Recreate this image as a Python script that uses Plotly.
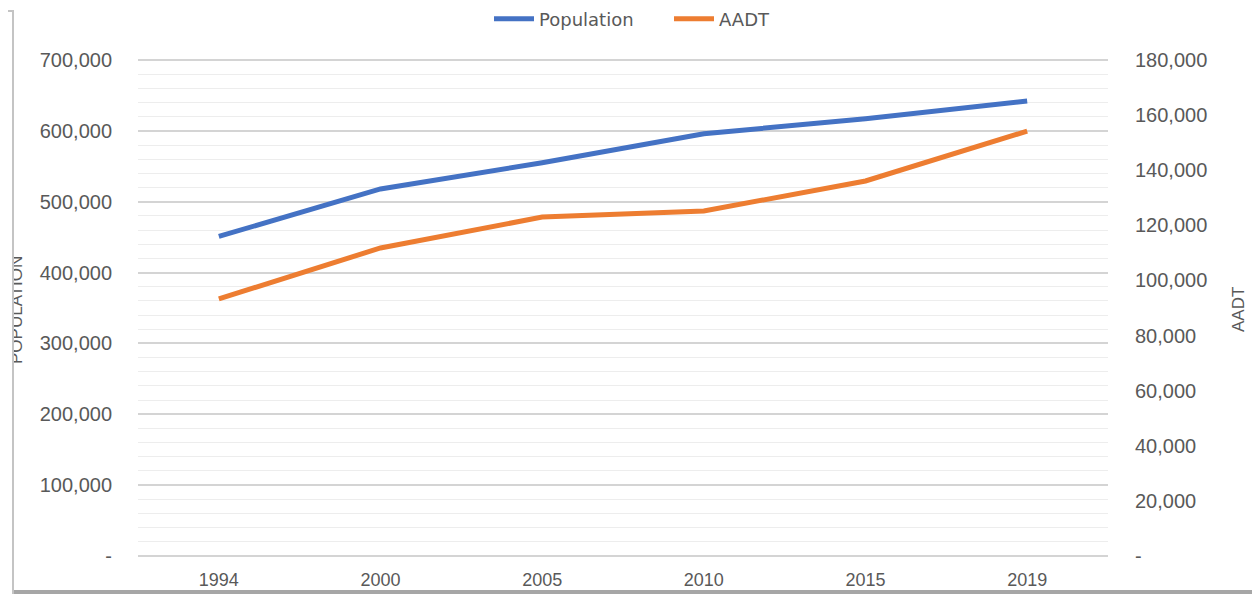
import plotly.graph_objects as go

years = ["1994", "2000", "2005", "2010", "2015", "2019"]
population = [451000, 518000, 555000, 596000, 617000, 642000]
aadt = [93300, 111800, 123000, 125200, 136100, 154200]

left_ticks = [0, 100000, 200000, 300000, 400000, 500000, 600000, 700000]
left_text = ["-", "100,000", "200,000", "300,000", "400,000", "500,000", "600,000", "700,000"]
right_ticks = [0, 20000, 40000, 60000, 80000, 100000, 120000, 140000, 160000, 180000]
right_text = ["-", "20,000", "40,000", "60,000", "80,000", "100,000", "120,000", "140,000", "160,000", "180,000"]

# page body has an 8px margin; work in screen coordinates and convert
OFF = 8
PADPX = 2  # extra px on each end so plotly keeps the end gridlines
W, H = 1260 - OFF, 594 - OFF
PL, PR = 138 - OFF, 1108 - OFF
PT, PB = 60 - PADPX - OFF, 556 + PADPX - OFF
ML, MR, MT, MB = PL, W - PR, PT, H - PB
PW = PR - PL
PH = PB - PT


def px(x):  # screen x -> paper
    return (x - OFF - PL) / PW


def py(y):  # screen y -> paper
    return (PB - (y - OFF)) / PH


FONT = "Liberation Sans, Arial, sans-serif"
GRAY = "#595959"

LP = PADPX * 700000 / 496
RP = PADPX * 180000 / 496

fig = go.Figure()
fig.add_trace(go.Scatter(x=years, y=population, name="Population", mode="lines",
                         line=dict(color="#4472C4", width=5), yaxis="y"))
fig.add_trace(go.Scatter(x=years, y=aadt, name="AADT", mode="lines",
                         line=dict(color="#ED7D31", width=5), yaxis="y2"))

fig.update_layout(
    width=W, height=H,
    margin=dict(l=ML, r=MR, t=MT, b=MB, autoexpand=False),
    paper_bgcolor="white", plot_bgcolor="white",
    font=dict(family=FONT, color=GRAY),
    showlegend=True,
    legend=dict(orientation="h", x=px(489), xanchor="left", y=py(19), yanchor="middle",
                font=dict(size=18, color=GRAY, family="DejaVu Sans, sans-serif"),
                itemwidth=40, entrywidth=125, bgcolor="rgba(0,0,0,0)"),
    xaxis=dict(type="category", range=[-0.5, 5.5], showgrid=False, zeroline=False,
               showline=False, ticks="outside", ticklen=5, tickcolor="rgba(0,0,0,0)",
               tickfont=dict(size=18, color=GRAY)),
    yaxis=dict(range=[-LP, 700000 + LP], tickvals=left_ticks, ticktext=left_text,
               showgrid=True, gridcolor="#d4d4d4", gridwidth=1.5, zeroline=False,
               showline=False, ticks="outside", ticklen=21, tickcolor="rgba(0,0,0,0)",
               tickfont=dict(size=20, color=GRAY),
               minor=dict(dtick=20000, tick0=0, showgrid=True, gridcolor="#ededed", gridwidth=1)),
    yaxis2=dict(range=[-RP, 180000 + RP], tickvals=right_ticks, ticktext=right_text,
                overlaying="y", side="right", showgrid=False, zeroline=False,
                showline=False, ticks="outside", ticklen=22, tickcolor="rgba(0,0,0,0)",
                tickfont=dict(size=20, color=GRAY)),
)

annotations = [
    dict(text="POPULATION", xref="paper", yref="paper", x=px(16), y=py(310),
         xanchor="center", yanchor="middle", textangle=-90, showarrow=False,
         font=dict(size=17, color=GRAY, family=FONT)),
    # white cover whose border forms the left frame edge (clips the axis title)
    dict(text=" ", xref="paper", yref="paper", x=px(14), y=py(10),
         xanchor="right", yanchor="top", showarrow=False, width=60, height=700,
         bgcolor="white", bordercolor="#c4c4c4", borderwidth=2, borderpad=0),
    dict(text="AADT", xref="paper", yref="paper", x=px(1238), y=py(310),
         xanchor="center", yanchor="middle", textangle=-90, showarrow=False,
         font=dict(size=17, color=GRAY, family=FONT)),
]
fig.update_layout(annotations=annotations)

fig.add_shape(type="line", xref="paper", yref="paper", x0=px(13), x1=px(1262),
              y0=py(592), y1=py(592), line=dict(color="#a6a6a6", width=4))

fig.write_html("out.html")
